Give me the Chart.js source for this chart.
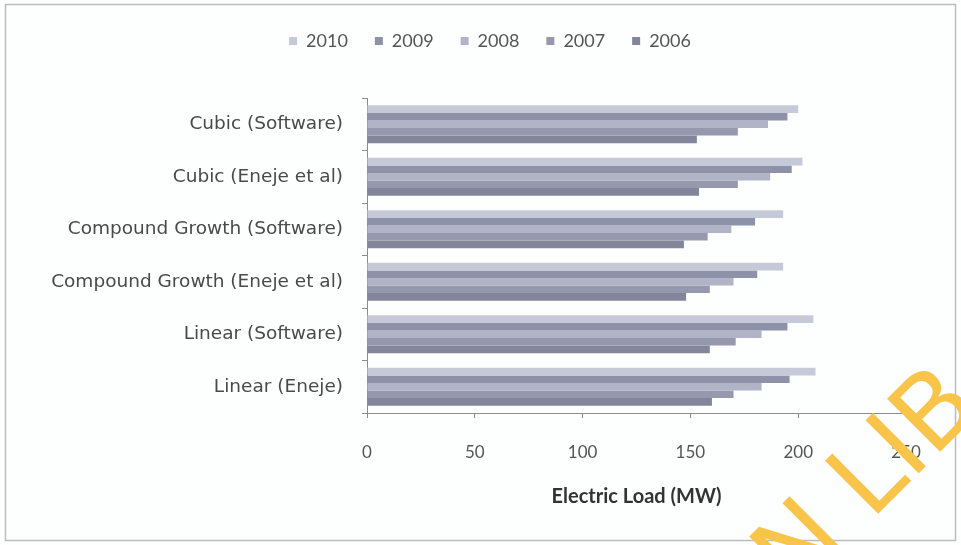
<!DOCTYPE html>
<html>
<head>
<meta charset="utf-8">
<script src="https://cdn.jsdelivr.net/npm/chart.js@4"></script>
<style>
  html, body { margin: 0; padding: 0; background: #fdfefe; }
  #wrap { width: 961px; height: 545px; }
</style>
</head>
<body>
<div id="wrap"><canvas id="LoadCanvas" width="961" height="545"></canvas></div>
<script>
//------------------------------------------------------------------------------------------------------------
// Forecast electric load by model, years 2006-2010
//------------------------------------------------------------------------------------------------------------
const categories = ['Cubic (Software)', 'Cubic (Eneje et al)', 'Compound Growth (Software)',
                    'Compound Growth (Eneje et al)', 'Linear (Software)', 'Linear (Eneje)']
const yearLabels = ['2010', '2009', '2008', '2007', '2006']
const load2010 = [200, 202, 193, 193, 207, 208]
const load2009 = [195, 197, 180, 181, 195, 196]
const load2008 = [186, 187, 169, 170, 183, 183]
const load2007 = [172, 172, 158, 159, 171, 170]
const load2006 = [153, 154, 147, 148, 159, 160]
const xTicks = [0, 50, 100, 150, 200, 250]

const seriesColors = ['#c6c9d8', '#8e92a8', '#b1b4c6', '#9699ad', '#83869b']
const fontName = 'Lato, "Open Sans", sans-serif'

const loadCanvas = document.getElementById('LoadCanvas')

// push the plot area down below the legend and move the legend a bit right, like the original
const legendSpace = {
    id: 'legendSpace',
    beforeInit(chart) {
        const fit = chart.legend.fit
        chart.legend.fit = function () {
            fit.bind(chart.legend)()
            this.height = 93
        }
    },
    afterLayout(chart) {
        chart.legend.left += 31
        chart.legend.right += 31
    }
}

// frame round the chart + the orange library stamp in the corner
const frameAndStamp = {
    id: 'frameAndStamp',
    afterDraw(chart) {
        const ctx = chart.ctx
        ctx.save()
        ctx.strokeStyle = '#b8bcc4'
        ctx.lineWidth = 1.5
        ctx.strokeRect(5.5, 4.5, 950, 536)

        ctx.fillStyle = '#f8c54a'
        ctx.font = '103px "DejaVu Sans", sans-serif'
        ctx.translate(871, 521)
        ctx.rotate(-Math.PI / 4)
        ctx.textBaseline = 'alphabetic'
        ctx.textAlign = 'left'
        ctx.fillText('LIB', 0, 0)
        ctx.textAlign = 'right'
        ctx.fillText('N', -30, 0)
        ctx.restore()
    }
}

const loadSeries = [load2010, load2009, load2008, load2007, load2006]

var loadChart = new Chart(loadCanvas, {
    type: 'bar',
    data: {
        labels: categories,
        datasets: loadSeries.map((vals, i) => ({
            label: yearLabels[i],
            data: vals,
            backgroundColor: seriesColors[i],
            borderWidth: 0,
            categoryPercentage: 0.72,
            barPercentage: 1.0
        }))
    },
    options: {
        indexAxis: 'y',
        responsive: false,
        animation: false,
        layout: { padding: { top: 5, left: 12, right: 55, bottom: 32 } },
        plugins: {
            tooltip: { enabled: false },
            legend: {
                position: 'top',
                labels: {
                    color: '#555',
                    font: { family: fontName, size: 18 },
                    boxWidth: 8,
                    boxHeight: 8,
                    padding: 27
                }
            }
        },
        scales: {
            x: {
                min: 0,
                max: 250,
                afterBuildTicks: (scale) => { scale.ticks = xTicks.map(v => ({ value: v })) },
                grid: { display: true, drawOnChartArea: false, tickLength: 5, color: '#8a8d95' },
                border: { display: true, color: '#8a8d95', width: 1 },
                ticks: {
                    color: '#555',
                    font: { family: fontName, size: 17 },
                    padding: 24
                },
                title: {
                    display: true,
                    text: 'Electric Load (MW)',
                    color: '#333',
                    font: { family: fontName, size: 20, weight: 'bold' },
                    padding: { top: 16, bottom: 4 }
                },
                afterFit: (scale) => { scale.height = 100 }
            },
            y: {
                grid: { display: true, drawOnChartArea: false, tickLength: 5, color: '#8a8d95' },
                border: { display: true, color: '#8a8d95', width: 1 },
                ticks: {
                    color: '#4a4a4a',
                    font: { family: '"DejaVu Sans", sans-serif', size: 18.5 },
                    padding: 19
                },
                afterFit: (scale) => { scale.width = 355 }
            }
        }
    },
    plugins: [legendSpace, frameAndStamp]
})
</script>
</body>
</html>
